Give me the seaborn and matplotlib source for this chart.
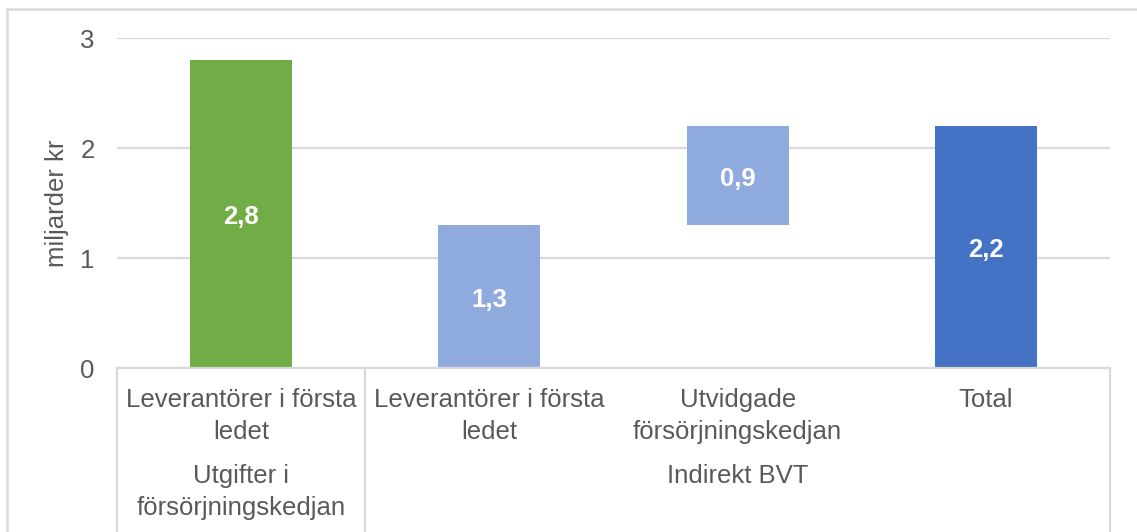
import matplotlib
matplotlib.use("Agg")
import matplotlib.pyplot as plt
import matplotlib.transforms as mtransforms
from matplotlib.patches import Rectangle
import seaborn as sb

OUTPUT = "out.png"

# DATA
#----------------------------------------------------
categories = ["Leverantörer i första\nledet", "Leverantörer i första\nledet",
              "Utvidgade\nförsörjningskedjan", "Total"]
bar_values = [2.8, 1.3, 0.9, 2.2]
bar_starts = [0, 0, 1.3, 0]
value_labels = ["2,8", "1,3", "0,9", "2,2"]
bar_colors = ["#70AD47", "#8FAADC", "#8FAADC", "#4472C4"]
group_labels = ["Utgifter i\nförsörjningskedjan", "Indirekt BVT"]
group_sizes = [1, 3]
y_ticks = [0, 1, 2, 3]
y_title = "miljarder kr"

TEXT = "#595959"
GRID = "#D9D9D9"
FS = 18.5

# PLOT
#----------------------------------------------------
def draw_chart():
    sb.set_style("white")
    plt.rcParams["font.family"] = ["Liberation Sans", "DejaVu Sans"]

    fig = plt.figure(figsize=(11.37, 5.32), dpi=100)
    ax = fig.add_axes([117/1137, 164/532, 993/1137, 330/532])

    sb.barplot(x=list(range(len(categories))), y=bar_values, bottom=bar_starts,
               color=bar_colors[1], width=0.41, errorbar=None, saturation=1,
               linewidth=0, zorder=2, ax=ax)
    for patch, c in zip(ax.patches, bar_colors):
        patch.set_facecolor(c)

    labels = ax.bar_label(ax.containers[0], labels=value_labels, label_type="center",
                          color="white", fontsize=FS, fontweight="bold")
    for t in labels:
        t.xyann = (0, -2.5)

    ax.set_xlim(-0.5, len(categories) - 0.5)
    ax.set_ylim(0, 3)
    ax.set_yticks(y_ticks)
    ax.set_xticks([])
    ax.set_xlabel("")
    ax.yaxis.grid(True, color=GRID, linewidth=1.6)
    ax.set_axisbelow(True)
    ax.tick_params(axis="y", length=0, pad=16, labelsize=FS, labelcolor=TEXT)
    ax.set_ylabel(y_title, fontsize=FS, color=TEXT, labelpad=8)

    for side in ["left", "top", "right"]:
        ax.spines[side].set_visible(False)
    ax.spines["bottom"].set_color(GRID)
    ax.spines["bottom"].set_linewidth(1.6)

    # category labels, one text per line
    for i, lab in enumerate(categories):
        for j, line in enumerate(lab.split("\n")):
            ax.annotate(line, xy=(i, 0), xytext=(0, -32 - 32*j), textcoords="offset pixels",
                        ha="center", va="center", fontsize=FS, color=TEXT)

    # group labels and separators
    trans = mtransforms.blended_transform_factory(ax.transData, ax.transAxes)
    start = 0
    edges = [-0.5]
    for lab, size in zip(group_labels, group_sizes):
        mid = start + (size - 1) / 2
        for j, line in enumerate(lab.split("\n")):
            ax.annotate(line, xy=(mid, 0), xytext=(0, -108 - 32*j), textcoords="offset pixels",
                        ha="center", va="center", fontsize=FS, color=TEXT)
        start += size
        edges.append(start - 0.5)
    for e in edges:
        ax.plot([e, e], [0, -0.52], transform=trans, color=GRID, linewidth=1.6, clip_on=False)

    # chart frame
    fig.add_artist(Rectangle((7/1137, -0.1), 1.2, (532 - 9)/532 + 0.1, transform=fig.transFigure,
                             fill=False, edgecolor=GRID, linewidth=1.8))

    fig.savefig(OUTPUT, dpi=100)

if __name__ == "__main__":
    draw_chart()
